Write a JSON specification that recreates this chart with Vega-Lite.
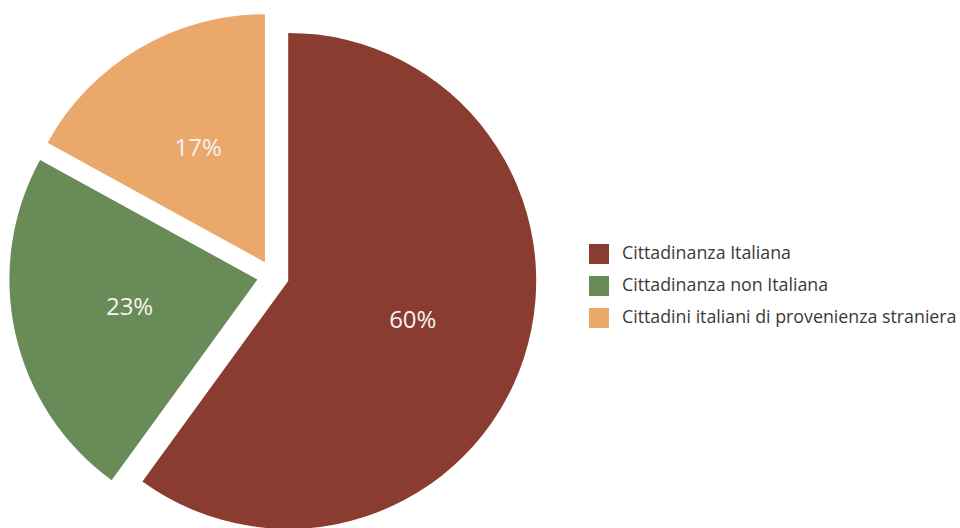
{
  "$schema": "https://vega.github.io/schema/vega-lite/v6.json",
  "width": 546,
  "height": 552,
  "autosize": "none",
  "padding": {"left": 0, "top": 0, "right": 414, "bottom": 0},
  "background": "white",
  "config": {"view": {"stroke": null}},
  "data": {
    "values": [
      {"category": "Cittadinanza Italiana", "value": 60, "label": "60%", "order": 1},
      {"category": "Cittadinanza non Italiana", "value": 23, "label": "23%", "order": 2},
      {"category": "Cittadini italiani di provenienza straniera", "value": 17, "label": "17%", "order": 3}
    ]
  },
  "encoding": {
    "theta": {"field": "value", "type": "quantitative", "stack": true},
    "order": {"field": "order", "type": "quantitative"},
    "color": {
      "field": "category",
      "type": "nominal",
      "scale": {
        "domain": ["Cittadinanza Italiana", "Cittadinanza non Italiana", "Cittadini italiani di provenienza straniera"],
        "range": ["#8a3c31", "#688b58", "#eaa86b"]
      },
      "legend": {
        "title": null,
        "orient": "none",
        "legendX": 589,
        "legendY": 244,
        "padding": 0,
        "symbolType": "square",
        "symbolSize": 400,
        "symbolStrokeWidth": 0,
        "symbolOpacity": 1,
        "rowPadding": 12,
        "labelOffset": 13,
        "labelFont": "Open Sans",
        "labelFontSize": 17.8,
        "labelColor": "#3a3a3a",
        "labelLimit": 400
      }
    }
  },
  "layer": [
    {
      "mark": {"type": "arc", "outerRadius": 248, "xOffset": 15.2, "yOffset": 4.9},
      "encoding": {"opacity": {"condition": {"test": "datum.category === 'Cittadinanza Italiana'", "value": 1}, "value": 0}}
    },
    {
      "mark": {"type": "arc", "outerRadius": 248, "xOffset": -15.6, "yOffset": 3.5},
      "encoding": {"opacity": {"condition": {"test": "datum.category === 'Cittadinanza non Italiana'", "value": 1}, "value": 0}}
    },
    {
      "mark": {"type": "arc", "outerRadius": 248, "xOffset": -8.1, "yOffset": -13.8},
      "encoding": {"opacity": {"condition": {"test": "datum.category === 'Cittadini italiani di provenienza straniera'", "value": 1}, "value": 0}}
    },
    {
      "mark": {"type": "text", "radius": 131, "xOffset": 15.2, "yOffset": 4.9, "font": "Open Sans", "fontSize": 24},
      "encoding": {
        "color": {"value": "#f6f3f1"},
        "text": {"condition": {"test": "datum.category === 'Cittadinanza Italiana'", "field": "label"}, "value": ""}
      }
    },
    {
      "mark": {"type": "text", "radius": 131, "xOffset": -15.6, "yOffset": 3.5, "font": "Open Sans", "fontSize": 24},
      "encoding": {
        "color": {"value": "#f6f3f1"},
        "text": {"condition": {"test": "datum.category === 'Cittadinanza non Italiana'", "field": "label"}, "value": ""}
      }
    },
    {
      "mark": {"type": "text", "radius": 131, "xOffset": -8.1, "yOffset": -13.8, "font": "Open Sans", "fontSize": 24},
      "encoding": {
        "color": {"value": "#f6f3f1"},
        "text": {"condition": {"test": "datum.category === 'Cittadini italiani di provenienza straniera'", "field": "label"}, "value": ""}
      }
    }
  ]
}
